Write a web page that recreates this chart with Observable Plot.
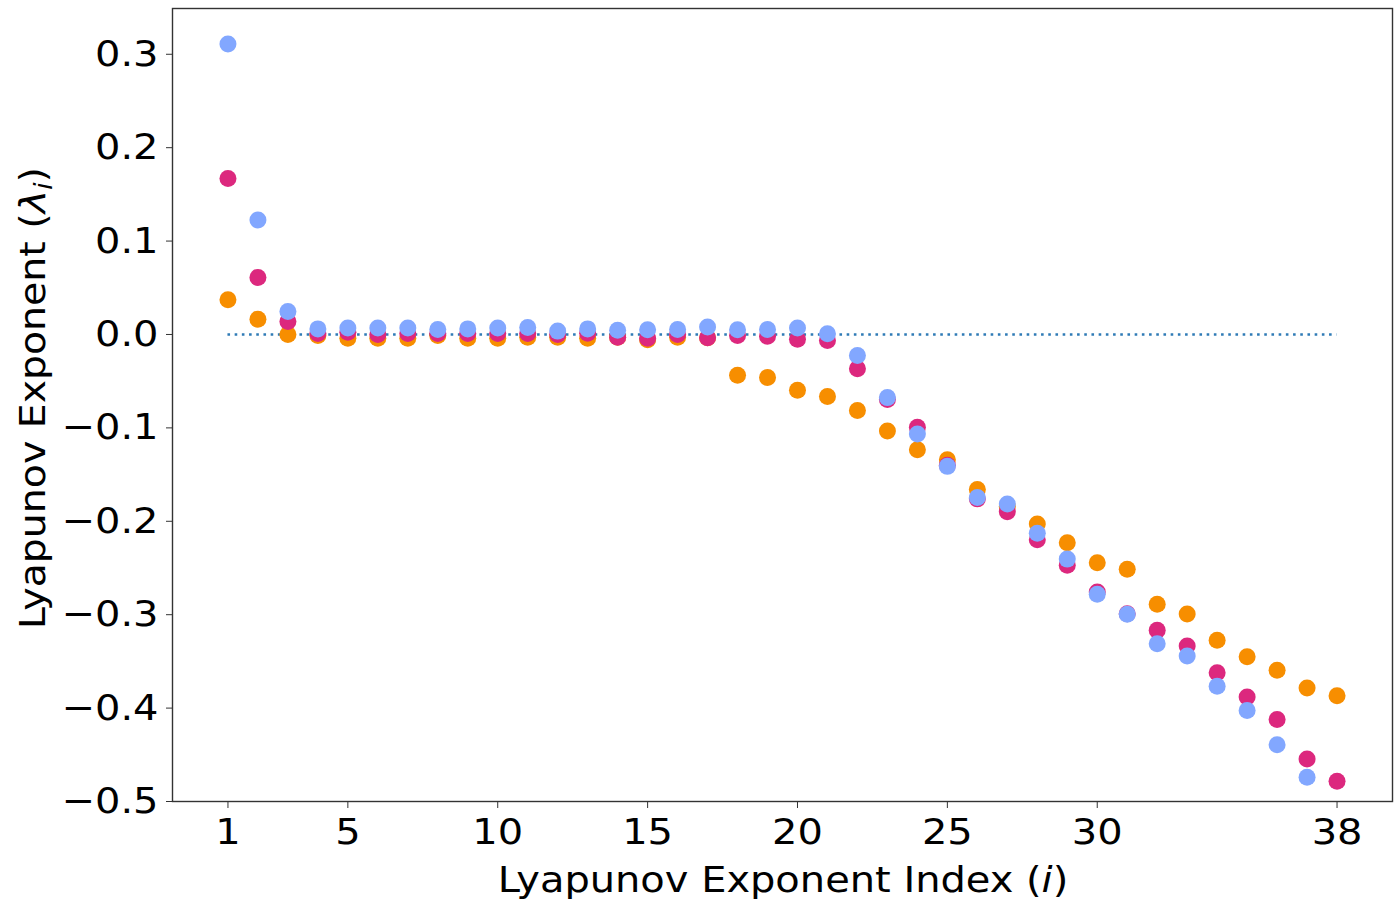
<!DOCTYPE html>
<html>
<head>
<meta charset="utf-8">
<script src="https://cdn.jsdelivr.net/npm/d3@7"></script>
<script src="https://cdn.jsdelivr.net/npm/@observablehq/plot@0.6"></script>
<style>
  html, body { margin: 0; padding: 0; background: #fff; }
  #chart svg { display: block; }
</style>
</head>
<body>
<div id="chart"></div>
<script>
// Lyapunov exponent indices
const indices = Array.from({length: 38}, (_, k) => k + 1);

// Series values (index 1..38); blue has 37 exponents
const orangeVals = [0.0372, 0.0164, 0.0000, -0.0010, -0.0040, -0.0040, -0.0040, -0.0010, -0.0040, -0.0040,
  -0.0030, -0.0030, -0.0040, -0.0030, -0.0057, -0.0030, -0.0036, -0.0436, -0.0460, -0.0597,
  -0.0665, -0.0815, -0.1033, -0.1233, -0.1340, -0.1659, -0.1840, -0.2030, -0.2230, -0.2443,
  -0.2513, -0.2888, -0.2992, -0.3274, -0.3450, -0.3596, -0.3786, -0.3868];
const magentaVals = [0.1670, 0.0611, 0.0139, 0.0010, 0.0025, 0.0000, 0.0010, 0.0010, 0.0010, 0.0010,
  0.0010, 0.0000, 0.0014, -0.0030, -0.0040, 0.0000, -0.0036, -0.0010, -0.0020, -0.0050,
  -0.0064, -0.0368, -0.0697, -0.0994, -0.1400, -0.1760, -0.1898, -0.2198, -0.2470, -0.2756,
  -0.2990, -0.3167, -0.3335, -0.3621, -0.3882, -0.4121, -0.4544, -0.4783];
const blueVals = [0.3110, 0.1226, 0.0247, 0.0060, 0.0070, 0.0070, 0.0070, 0.0054, 0.0060, 0.0070,
  0.0075, 0.0036, 0.0060, 0.0046, 0.0050, 0.0054, 0.0079, 0.0050, 0.0054, 0.0070,
  0.0007, -0.0225, -0.0676, -0.1065, -0.1412, -0.1745, -0.1816, -0.2127, -0.2405, -0.2780,
  -0.2995, -0.3310, -0.3442, -0.3767, -0.4025, -0.4393, -0.4740];

// Tick labels
const xTicks = [1, 5, 10, 15, 20, 25, 30, 38];
const yTicks = [0.3, 0.2, 0.1, 0.0, -0.1, -0.2, -0.3, -0.4, -0.5];

const toRows = vals => vals.map((v, k) => ({i: indices[k], v}));
const orangeRows = toRows(orangeVals);
const magentaRows = toRows(magentaVals);
const blueRows = toRows(blueVals);

const chart = Plot.plot({
  width: 1395,
  height: 903,
  marginLeft: 172,
  marginRight: 3,
  marginTop: 8,
  marginBottom: 102,
  style: {fontFamily: "'DejaVu Sans', sans-serif", fontSize: "36px", color: "#000", background: "#fff"},
  x: {domain: [-0.85, 39.85], ticks: xTicks, tickFormat: d => String(d), tickSize: 7, tickPadding: 10, label: null},
  y: {domain: [-0.5, 0.349], ticks: yTicks, tickFormat: d3.format(".1f"), tickSize: 6, tickPadding: 8, label: null},
  marks: [
    Plot.ruleY([0], {
      x1: () => indices[0],
      x2: () => indices[indices.length - 1],
      stroke: "#2f7bb6",
      strokeWidth: 2.6,
      strokeDasharray: "2.6,4.6"
    }),
    Plot.dot(orangeRows, {x: "i", y: "v", r: 8.5, fill: "#f78e00", stroke: "none"}),
    Plot.dot(magentaRows, {x: "i", y: "v", r: 8.5, fill: "#dc287e", stroke: "none"}),
    Plot.dot(blueRows, {x: "i", y: "v", r: 8.5, fill: "#82a7ff", stroke: "none"}),
    Plot.frame({stroke: "#333", strokeWidth: 1.4})
  ]
});

document.getElementById("chart").appendChild(chart);

const svg = d3.select(chart);
const K = 1.11; // the reference's glyphs are a little wider than DejaVu's

function stretch(sel, k) {
  sel.each(function () {
    const t = d3.select(this);
    const x = +t.attr("x") || 0, y = +t.attr("y") || 0;
    const tr = t.attr("transform") || "";
    t.attr("transform", `${tr} translate(${x},${y}) scale(${k},1) translate(${-x},${-y})`);
  });
}

// widen tick labels
stretch(svg.selectAll("text"), K);
svg.selectAll("g[aria-label='x-axis tick'] path, g[aria-label='y-axis tick'] path").attr("stroke", "#333");

// Axis titles with italic parts
const xl = svg.append("text")
  .attr("transform", `translate(783,892) scale(${K},1)`)
  .attr("text-anchor", "middle")
  .attr("font-family", "'DejaVu Sans', sans-serif")
  .attr("font-size", 36)
  .attr("fill", "#000");
xl.append("tspan").text("Lyapunov Exponent Index (");
xl.append("tspan").attr("font-style", "italic").text("i");
xl.append("tspan").text(")");

const yl = svg.append("text")
  .attr("transform", `translate(45,398) rotate(-90) scale(${K - 0.015},1)`)
  .attr("text-anchor", "middle")
  .attr("font-family", "'DejaVu Sans', sans-serif")
  .attr("font-size", 36)
  .attr("fill", "#000");
yl.append("tspan").text("Lyapunov Exponent (");
yl.append("tspan").attr("font-style", "italic").text("λ");
yl.append("tspan").attr("font-style", "italic").attr("font-size", 25).attr("dy", 7).text("i");
yl.append("tspan").attr("dy", -7).text(")");
</script>
</body>
</html>
